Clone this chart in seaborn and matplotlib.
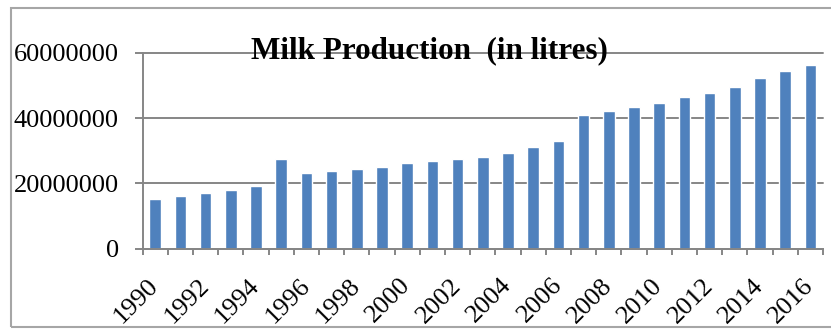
import matplotlib
matplotlib.use("Agg")
import matplotlib.pyplot as plt
import matplotlib.transforms as mtransforms
from matplotlib.patches import Rectangle
from matplotlib.ticker import FuncFormatter
import numpy as np
import pandas as pd
import seaborn as sns

# Annual milk production, litres
years = [1990, 1991, 1992, 1993, 1994, 1995, 1996, 1997, 1998, 1999,
         2000, 2001, 2002, 2003, 2004, 2005, 2006, 2007, 2008, 2009,
         2010, 2011, 2012, 2013, 2014, 2015, 2016]
production = [15300000, 16000000, 17200000, 17900000, 19100000, 27600000,
              23300000, 23900000, 24500000, 25100000, 26300000, 26900000,
              27600000, 28200000, 29400000, 31200000, 33100000, 40800000,
              42100000, 43300000, 44500000, 46300000, 47700000, 49400000,
              52300000, 54300000, 56100000]
y_ticks = [0, 20000000, 40000000, 60000000]
labelled_years = years[::2]
title = "Milk Production  (in litres)"

BAR = "#4F81BD"
GRID = "#868686"

sns.set_theme(style="white")
plt.rcParams["font.family"] = ["Liberation Serif", "DejaVu Serif"]

df = pd.DataFrame({"year": [str(y) for y in years], "litres": production})

fig = plt.figure(figsize=(8.31, 3.29), dpi=100)
ax = fig.add_axes([0.1717, 0.2441, 0.8187, 0.5957])

sns.barplot(data=df, x="year", y="litres", color=BAR, saturation=1,
            width=0.46, ax=ax, zorder=3)

ax.set_xlim(-0.5, len(years) - 0.5)
ax.set_ylim(0, y_ticks[-1])
ax.set_xlabel("")
ax.set_ylabel("")

# horizontal gridlines
ax.set_yticks(y_ticks)
ax.yaxis.set_major_formatter(FuncFormatter(lambda v, p: f"{int(v)}"))
ax.yaxis.grid(True, color=GRID, lw=1.4)
ax.set_axisbelow(True)
for gl in ax.get_ygridlines():
    gl.set_clip_on(False)
ax.tick_params(axis="y", which="major", direction="out", length=5.8,
               width=1.4, color=GRID, labelsize=19, labelcolor="black",
               pad=11.5, left=True)

# category boundary ticks on x, labels every other year
ax.set_xticks(np.arange(-0.5, len(years), 1.0))
ax.set_xticklabels([])
ax.tick_params(axis="x", which="major", direction="out", length=4.3,
               width=1.4, color=GRID, bottom=True)
label_pos = [years.index(y) for y in labelled_years]
ax.set_xticks(label_pos, minor=True)
ax.set_xticklabels([str(y) for y in labelled_years], minor=True)
ax.tick_params(axis="x", which="minor", length=0, labelsize=19,
               labelcolor="black", pad=24)
for lab in ax.get_xticklabels(minor=True):
    lab.set_rotation(45)
    lab.set_ha("right")
    lab.set_va("center")
    lab.set_rotation_mode("anchor")

for side in ("top", "right"):
    ax.spines[side].set_visible(False)
for side in ("left", "bottom"):
    ax.spines[side].set_color(GRID)
    ax.spines[side].set_linewidth(1.4)
    ax.spines[side].set_zorder(4)

fig.text(429 / 831, 1 - 58 / 329, title, ha="center", va="baseline",
         fontsize=22.4, fontweight="bold", color="black", zorder=10)

# outer frame
fig.add_artist(Rectangle((11 / 831, 1 - 327 / 329), 1.0, 319 / 329,
                         transform=fig.transFigure, fill=False,
                         edgecolor="#a6a6a6", lw=1.5))

fig.savefig("out.png", dpi=100)
